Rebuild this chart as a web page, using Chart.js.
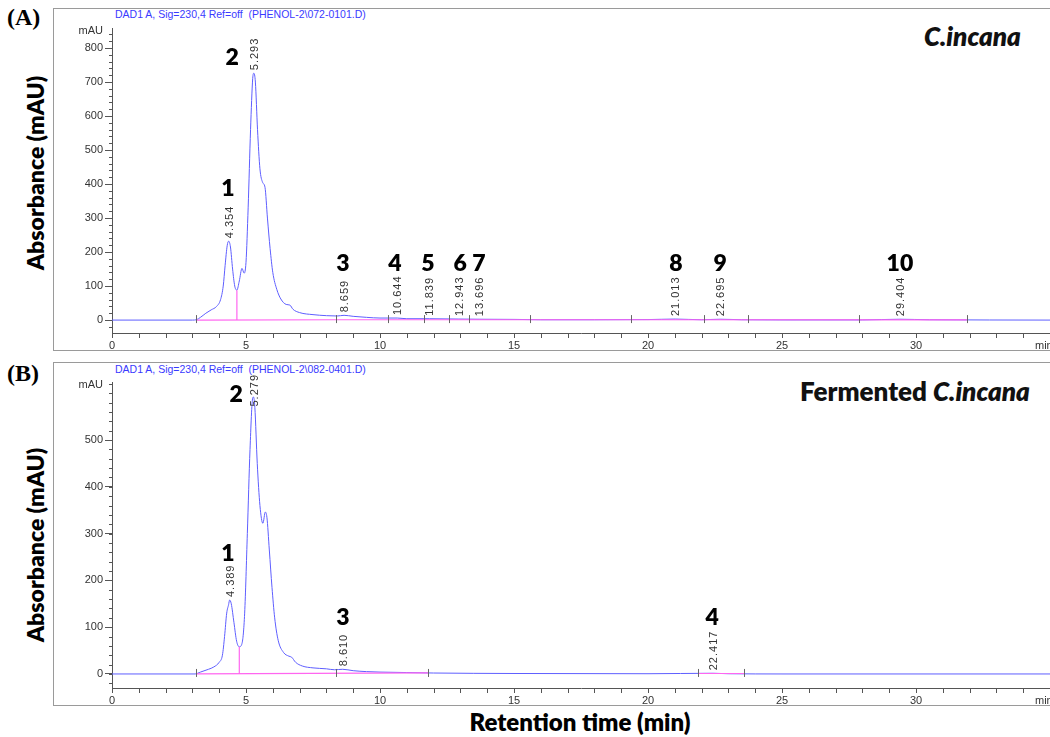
<!DOCTYPE html>
<html lang="en">
<head>
<meta charset="UTF-8">
<title>HPLC chromatograms - C.incana</title>
<style>
    body {
        margin: 0;
        width: 1050px;
        height: 737px;
        position: relative;
        overflow: hidden;
        background: #fff;
        font-family: 'Liberation Sans', Arial, sans-serif;
    }
    .frame {
        position: absolute;
        left: 53px;
        width: 1010px;
        border: 1px solid #9a9a9a;
        border-right: none;
    }
    #frameA { top: 8px; height: 341px; }
    #frameB { top: 362px; height: 342px; }
    .box { position: absolute; left: 53px; width: 997px; }
    #boxA { top: 8px; height: 342px; }
    #boxB { top: 362px; height: 343px; }
    .sig {
        position: absolute;
        left: 115px;
        font-size: 10.5px;
        color: #3a3aff;
        white-space: pre;
    }
    .panel {
        position: absolute;
        left: 7px;
        font-family: 'Liberation Serif', 'Times New Roman', serif;
        font-weight: bold;
        font-size: 24px;
    }
    .name {
        position: absolute;
        font-family: Lato, 'Open Sans', sans-serif;
        font-weight: 800;
        font-size: 26px;
        color: #111;
        white-space: nowrap;
    }
    .ylab {
        position: absolute;
        font-family: Lato, 'Open Sans', sans-serif;
        font-weight: 800;
        font-size: 23px;
        white-space: nowrap;
        transform: translate(-50%, -50%) rotate(-90deg);
    }
    .xlab {
        position: absolute;
        left: 580px;
        top: 721px;
        transform: translate(-50%, -50%);
        font-family: Lato, 'Open Sans', sans-serif;
        font-weight: 800;
        font-size: 24px;
        white-space: nowrap;
    }
</style>
<script src="https://cdn.jsdelivr.net/npm/chart.js"></script>
</head>
<body>

<div class="frame" id="frameA"></div>
<div class="frame" id="frameB"></div>

<div class="panel" style="top:4px;">(A)</div>
<div class="panel" style="top:360px;">(B)</div>

<div class="sig" style="top:8px;">DAD1 A, Sig=230,4 Ref=off  (PHENOL-2\072-0101.D)</div>
<div class="sig" style="top:363px;">DAD1 A, Sig=230,4 Ref=off  (PHENOL-2\082-0401.D)</div>

<div class="name" style="left:924px; top:20px;"><i>C.incana</i></div>
<div class="name" style="left:800px; top:375px;">Fermented <i>C.incana</i></div>

<div class="ylab" style="left:35px; top:173px;">Absorbance (mAU)</div>
<div class="ylab" style="left:35px; top:545px;">Absorbance (mAU)</div>
<div class="xlab">Retention time (min)</div>

<div class="box" id="boxA"><canvas id="chartA" width="997" height="342"></canvas></div>
<div class="box" id="boxB"><canvas id="chartB" width="997" height="343"></canvas></div>

<script>
    // ---- data: retention time (min) / absorbance (mAU) ----
    const traceA = [
        [0, 0], [3.0, 0], [3.15, 1], [3.3, 8], [3.5, 20], [3.7, 30], [3.9, 40], [4.05, 60],
        [4.15, 100], [4.22, 160], [4.3, 220], [4.354, 232], [4.42, 215], [4.5, 150], [4.58, 100],
        [4.66, 88], [4.75, 115], [4.85, 152], [4.93, 138], [5.0, 170], [5.08, 330], [5.17, 560],
        [5.25, 710], [5.293, 726], [5.35, 700], [5.43, 560], [5.52, 445], [5.62, 405], [5.71, 390],
        [5.8, 300], [5.9, 210], [6.0, 140], [6.15, 90], [6.3, 62], [6.5, 46], [6.64, 44],
        [6.75, 32], [7.0, 22], [7.5, 16], [8.0, 13], [8.4, 12], [8.659, 14], [9.0, 11], [9.5, 8],
        [10.0, 6], [10.644, 6], [11.0, 4], [11.839, 4], [12.943, 3], [13.696, 2.5], [15, 2],
        [16, 1], [18, 1], [20, 1.5], [21.013, 3], [22, 1], [22.695, 2.5], [23.5, 1], [25, 0.5],
        [28, 0.5], [29.404, 2.5], [30.5, 1], [35, 0]
    ];
    const traceB = [
        [0, 0], [3.1, 0], [3.3, 4], [3.6, 10], [3.8, 15], [4.0, 25], [4.12, 40], [4.2, 80],
        [4.28, 130], [4.35, 148], [4.389, 158], [4.45, 150], [4.55, 110], [4.65, 70], [4.75, 58],
        [4.85, 65], [4.95, 130], [5.05, 300], [5.15, 480], [5.25, 590], [5.279, 592], [5.33, 570],
        [5.42, 450], [5.52, 360], [5.63, 322], [5.72, 346], [5.78, 335], [5.87, 265], [5.97, 185],
        [6.07, 120], [6.2, 72], [6.4, 46], [6.6, 38], [6.7, 36], [6.85, 25], [7.1, 17], [7.5, 13],
        [8.0, 11], [8.3, 9], [8.61, 10], [9.0, 7], [9.5, 5], [10, 4], [11, 3], [12, 2], [15, 1],
        [20, 0.5], [22.417, 1.5], [23, 0.5], [25, 0], [35, 0]
    ];

    // integration baselines (magenta), drop lines and peak start/end markers
    const baseA = [[3.15, 0], [8.36, 1], [15.6, 1], [19.36, 1], [31.9, 0.5]];
    const dropA = [[4.66, 0], [4.66, 88]];
    const marksA = [3.15, 8.36, 10.3, 11.65, 12.57, 13.33, 15.6, 19.36, 22.09, 23.73, 27.87, 31.9];

    const baseB = [[3.15, 0], [11.8, 2.5], [null, null], [21.87, 1], [23.58, 1]];
    const dropB = [[4.75, 0], [4.75, 58]];
    const marksB = [3.15, 8.36, 11.8, 21.87, 23.58];

    // peak retention times and numbering
    const rtA = [4.354, 5.293, 8.659, 10.644, 11.839, 12.943, 13.696, 21.013, 22.695, 29.404];
    const rtB = [4.389, 5.279, 8.61, 22.417];
    const numLabelsA = ['1', '2', '3', '4', '5', '6', '7', '8', '9', '10'];
    const numLabelsB = ['1', '2', '3', '4'];
    const numPosA = [[4.33, 388], [4.48, 771], [8.62, 165], [10.56, 165], [11.79, 165],
                     [12.99, 165], [13.69, 165], [21.04, 165], [22.69, 165], [29.4, 165]];
    const numPosB = [[4.33, 258], [4.63, 598], [8.62, 120], [22.39, 120]];

    // axes
    const xTicks = [0, 5, 10, 15, 20, 25, 30];
    const yTicksA = [0, 100, 200, 300, 400, 500, 600, 700, 800];
    const yTicksB = [0, 100, 200, 300, 400, 500];
    const xRange = [0, 35];
    const yRangeA = [-38, 859];
    const yRangeB = [-30, 624];

    const TRACE = '#5e5eff';
    const BASE = '#ff66f0';
    const AXIS = '#555';
    const toPts = arr => arr.map(p => ({ x: p[0], y: p[1] }));

    const annotate = {
        id: 'annotate',
        afterDatasetsDraw(chart, args, o) {
            const { ctx, scales: { x, y } } = chart;
            ctx.save();

            // minor ticks
            ctx.strokeStyle = AXIS;
            ctx.lineWidth = 1;
            for (let t = x.min; t <= x.max; t += 1) {
                const px = Math.round(x.getPixelForValue(t)) + 0.5;
                ctx.beginPath(); ctx.moveTo(px, y.bottom); ctx.lineTo(px, y.bottom + 5); ctx.stroke();
            }
            for (let v = Math.ceil(y.min / 20) * 20; v <= y.max; v += 20) {
                const py = Math.round(y.getPixelForValue(v)) + 0.5;
                ctx.beginPath(); ctx.moveTo(x.left - 3, py); ctx.lineTo(x.left, py); ctx.stroke();
            }

            // peak start / end markers
            ctx.strokeStyle = '#666';
            o.marks.forEach(t => {
                const px = Math.round(x.getPixelForValue(t)) + 0.5, py = y.getPixelForValue(0);
                ctx.beginPath(); ctx.moveTo(px, py - 5); ctx.lineTo(px, py + 3); ctx.stroke();
            });

            // retention time labels (pushed down when they would run past the plot top)
            ctx.fillStyle = '#333';
            ctx.font = '11px "Liberation Sans", Arial, sans-serif';
            ctx.letterSpacing = '1px';
            ctx.textAlign = 'left';
            ctx.textBaseline = 'middle';
            o.rt.forEach(t => {
                const pt = o.trace.find(p => p[0] === t);
                const label = t.toFixed(3);
                const w = ctx.measureText(label).width;
                const px = x.getPixelForValue(t) + 1;
                let py = y.getPixelForValue(pt[1]) - 3;
                if (py - w < y.top - 8) py = y.top - 8 + w;
                ctx.save();
                ctx.translate(px, py);
                ctx.rotate(-Math.PI / 2);
                ctx.fillText(label, 0, 0);
                ctx.restore();
            });
            ctx.letterSpacing = '0px';

            // peak numbers
            ctx.fillStyle = '#000';
            ctx.font = '800 23px Lato, "Open Sans", sans-serif';
            ctx.textAlign = 'center';
            o.nums.forEach((n, i) => {
                ctx.fillText(n, x.getPixelForValue(o.numPos[i][0]), y.getPixelForValue(o.numPos[i][1]));
            });

            // axis unit labels
            ctx.fillStyle = '#333';
            ctx.font = '11px "Liberation Sans", Arial, sans-serif';
            ctx.textAlign = 'right';
            ctx.fillText('mAU', x.left - 9, y.top + 3);
            ctx.textAlign = 'left';
            ctx.textBaseline = 'top';
            ctx.fillText('min', x.right - 15, y.bottom + 7);
            ctx.restore();
        }
    };

    function makeChart(id, trace, base, drop, yRange, yTicks, ann) {
        return new Chart(document.getElementById(id), {
            type: 'line',
            data: {
                datasets: [
                    { data: toPts(base), borderColor: BASE, borderWidth: 1.2, pointRadius: 0, spanGaps: false, order: 0 },
                    { data: toPts(drop), borderColor: BASE, borderWidth: 1.2, pointRadius: 0, order: 0 },
                    { data: toPts(trace), borderColor: TRACE, borderWidth: 1, pointRadius: 0,
                      cubicInterpolationMode: 'monotone', order: 1 }
                ]
            },
            options: {
                responsive: false,
                animation: false,
                events: [],
                layout: { padding: { top: 20, right: 0, bottom: 0, left: 0 } },
                plugins: { legend: { display: false }, tooltip: { enabled: false }, annotate: ann },
                scales: {
                    x: {
                        type: 'linear',
                        min: xRange[0], max: xRange[1],
                        afterBuildTicks: s => { s.ticks = xTicks.map(v => ({ value: v })); },
                        afterFit: s => { s.height = 17; },
                        grid: { drawOnChartArea: false, tickLength: 5, color: AXIS },
                        border: { display: true, color: AXIS },
                        ticks: { color: '#333', padding: 1, maxRotation: 0,
                                 font: { family: '"Liberation Sans", Arial', size: 11 } }
                    },
                    y: {
                        min: yRange[0], max: yRange[1],
                        afterBuildTicks: s => { s.ticks = yTicks.map(v => ({ value: v })); },
                        afterFit: s => { s.width = 59; },
                        grid: { drawOnChartArea: false, tickLength: 7, color: AXIS },
                        border: { display: true, color: AXIS },
                        ticks: { color: '#333', padding: 2,
                                 font: { family: '"Liberation Sans", Arial', size: 11 } }
                    }
                }
            },
            plugins: [annotate]
        });
    }

    makeChart('chartA', traceA, baseA, dropA, yRangeA, yTicksA,
        { marks: marksA, rt: rtA, trace: traceA, nums: numLabelsA, numPos: numPosA });
    makeChart('chartB', traceB, baseB, dropB, yRangeB, yTicksB,
        { marks: marksB, rt: rtB, trace: traceB, nums: numLabelsB, numPos: numPosB });
</script>
</body>
</html>
